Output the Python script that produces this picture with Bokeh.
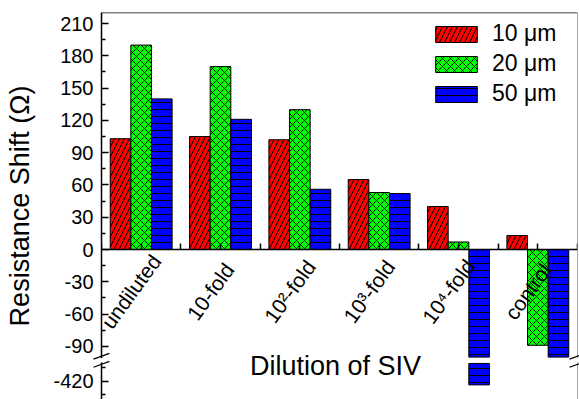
import math
from bokeh.plotting import figure
from bokeh.models import (FixedTicker, Span, Legend, LegendItem, ColumnDataSource,
                          Label, LinearAxis)
from bokeh.embed import file_html
from bokeh.resources import INLINE

# ---------------- data ----------------
categories = ["undiluted", "10-fold", "10²-fold", "10³-fold", "10⁴-fold", "control"]
series_names = ["10 μm", "20 μm", "50 μm"]
shift_10um = [103, 105, 102, 65, 40, 13]
shift_20um = [190, 170, 130, 53, 7, -89]
shift_50um = [140, 121, 56, 52, -424, -100]
y_major_upper = [-90, -60, -30, 0, 30, 60, 90, 120, 150, 180, 210]
y_major_lower = [-420]
y_minor_upper = [-75, -45, -15, 15, 45, 75, 105, 135, 165, 195]
y_minor_lower = [-435, -405]

# ---------------- broken-axis mapping ----------------
BREAK_TOP = -100       # lowest value of upper segment
LOWER_TOP = -400       # highest value of lower segment
LOWER_ANCHOR = -420
LOWER_ANCHOR_DISP = -122.5
LOWER_SCALE = 0.83


def disp(v):
    if v >= BREAK_TOP:
        return v
    return LOWER_ANCHOR_DISP + (v - LOWER_ANCHOR) * LOWER_SCALE


Y_TOP = 220.3
Y_BOTTOM = -139.4
FONT = "Liberation Sans"

p = figure(width=579, height=399, output_backend="svg", toolbar_location=None,
           x_range=(-0.5, 5.5), y_range=(Y_BOTTOM, Y_TOP),
           x_axis_location=None, y_axis_location="left",
           min_border_left=101, min_border_top=12, min_border_right=2, min_border_bottom=0)
p.outline_line_color = None
p.xgrid.visible = False
p.ygrid.visible = False
p.background_fill_color = "white"
p.border_fill_color = "white"

# ---------------- bars ----------------
colors = ["#ff0000", "#00ff00", "#0000ff"]
hatches = ["/", "x", "-"]
hscales = [10, 8, 7]
offsets = [-0.26, 0.0, 0.26]
bw = 0.26
series = [shift_10um, shift_20um, shift_50um]
legend_items = []
for s, vals in enumerate(series):
    up = dict(left=[], right=[], top=[], bottom=[])
    lo = dict(left=[], right=[], top=[], bottom=[])
    for i, v in enumerate(vals):
        xc = i + offsets[s]
        up["left"].append(xc - bw / 2)
        up["right"].append(xc + bw / 2)
        up["top"].append(max(v, 0) if v >= BREAK_TOP else 0)
        up["bottom"].append(min(v, 0) if v >= BREAK_TOP else BREAK_TOP)
        if v < BREAK_TOP:
            lo["left"].append(xc - bw / 2)
            lo["right"].append(xc + bw / 2)
            lo["top"].append(disp(LOWER_TOP))
            lo["bottom"].append(disp(v))
    kw = dict(fill_color=colors[s], line_color="black", line_width=1,
              hatch_pattern=hatches[s], hatch_color="black", hatch_scale=hscales[s],
              hatch_weight=1)
    r = p.quad(source=ColumnDataSource(up), **kw)
    if lo["left"]:
        p.quad(source=ColumnDataSource(lo), **kw)
    legend_items.append(LegendItem(label=series_names[s], renderers=[r]))

# ---------------- y axis ----------------
ticks = [disp(t) for t in y_major_upper + y_major_lower]
minor = [disp(t) for t in y_minor_upper + y_minor_lower]
yax = p.yaxis[0]
yax.ticker = FixedTicker(ticks=ticks, minor_ticks=minor)
yax.major_label_overrides = {disp(t): str(t) for t in y_major_upper + y_major_lower}
yax.major_tick_in = 7
yax.major_tick_out = 0
yax.minor_tick_in = 4
yax.minor_tick_out = 0
yax.axis_line_width = 1.5
yax.major_tick_line_width = 1.5
yax.minor_tick_line_width = 1.5
yax.major_label_text_font = FONT
yax.major_label_text_font_size = "20px"
yax.major_label_text_color = "black"
yax.major_label_standoff = 8
yax.axis_label = "Resistance Shift (Ω)"
yax.axis_label_text_font = FONT
yax.axis_label_text_font_size = "27px"
yax.axis_label_text_font_style = "normal"
yax.axis_label_text_color = "black"
yax.axis_label_standoff = 15

# ---------------- x axis at zero ----------------
xax = LinearAxis(fixed_location=0,
                 ticker=FixedTicker(ticks=[],
                                    minor_ticks=[i * 0.5 for i in range(-1, 2 * len(categories))]))
xax.major_tick_in = 6
xax.major_tick_out = 0
xax.minor_tick_in = 6
xax.minor_tick_out = 0
xax.axis_line_width = 1.5
xax.major_tick_line_width = 1.5
xax.minor_tick_line_width = 1.5
xax.major_label_standoff = 0
p.add_layout(xax, "below")

# category labels (rotated, centred below each group)
LABEL_ANGLE = math.radians(54)
for i, cat in enumerate(categories):
    p.add_layout(Label(x=i, y=0, text=cat, angle=LABEL_ANGLE, angle_units="rad",
                       text_align="center", text_baseline="middle",
                       x_offset=-10, y_offset=-42, text_font=FONT,
                       text_font_size="21px", text_color="black"))

p.add_layout(Label(x=2.45, y=-108.7, text="Dilution of SIV", text_align="center",
                   text_baseline="middle", text_font=FONT, text_font_size="27px",
                   text_color="black"))

# frame top / right borders
p.add_layout(Span(location=Y_TOP, dimension="width", line_color="black", line_width=1.5))
p.add_layout(Span(location=5.5, dimension="height", line_color="#555555", line_width=1))

# axis break marks
for xb in [-0.5, 5.5]:
    mid = (disp(BREAK_TOP) + disp(LOWER_TOP)) / 2
    p.scatter(x=[xb], y=[mid], marker="dash", size=15, angle=0.35,
              line_color="white", line_width=4, level="overlay")
    p.scatter(x=[xb, xb], y=[disp(BREAK_TOP) + 0.8, disp(LOWER_TOP) - 0.8],
              marker="dash", size=17, angle=0.35, line_color="black",
              line_width=1.2, level="overlay")

# legend
legend = Legend(items=legend_items, location=(329, 292))
legend.background_fill_alpha = 0
legend.border_line_color = None
legend.glyph_width = 52
legend.glyph_height = 20
legend.label_height = 20
legend.label_text_font = FONT
legend.label_text_font_size = "23px"
legend.label_text_color = "black"
legend.label_standoff = 10
legend.spacing = 3
legend.padding = 5
legend.margin = 0
p.add_layout(legend)

open("out.html", "w").write(file_html(p, INLINE))
